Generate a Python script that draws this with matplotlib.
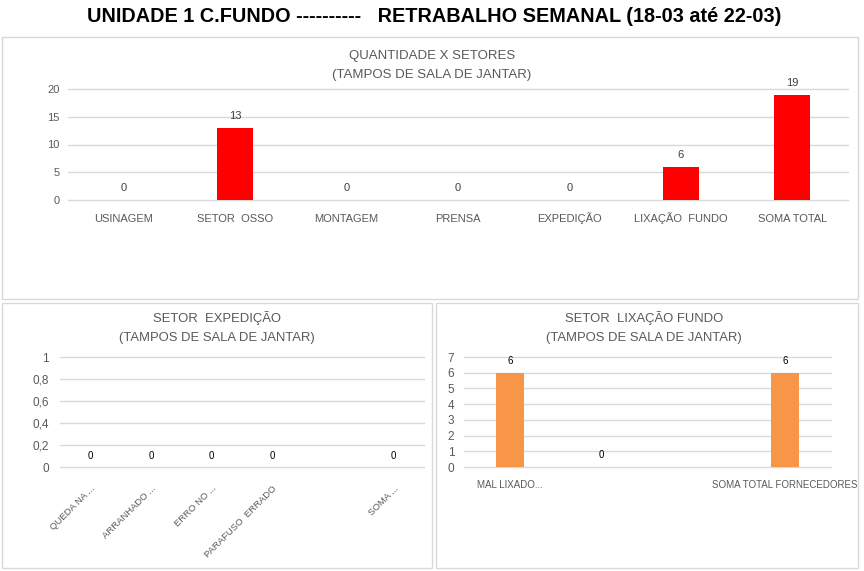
import matplotlib.pyplot as plt
from matplotlib.patches import Rectangle

plt.rcParams['font.family'] = ['Liberation Sans', 'DejaVu Sans']

# dados
setores = ['USINAGEM', 'SETOR  OSSO', 'MONTAGEM', 'PRENSA', 'EXPEDIÇÃO', 'LIXAÇÃO  FUNDO', 'SOMA TOTAL']
qtd_setores = [0, 13, 0, 0, 0, 6, 19]

exp_cats = ['QUEDA NA ...', 'ARRANHADO ...', 'ERRO NO ...', 'PARAFUSO  ERRADO', '', 'SOMA ...']
exp_vals = [0, 0, 0, 0, None, 0]

lix_cats = ['MAL LIXADO...', '', '', 'SOMA TOTAL FORNECEDORES']
lix_vals = [6, 0, None, 6]

W, H = 864, 571
fig = plt.figure(figsize=(W / 100, H / 100), dpi=100)
fig.patch.set_facecolor('white')

TXT = '#595959'
GRID = '#D9D9D9'


def px_axes(x0, x1, ytop, ybot):
    return fig.add_axes([x0 / W, 1 - ybot / H, (x1 - x0) / W, (ybot - ytop) / H])


def box(x0, y0, x1, y1):
    fig.add_artist(Rectangle((x0 / W, 1 - y1 / H), (x1 - x0) / W, (y1 - y0) / H,
                             transform=fig.transFigure, fill=False, edgecolor=GRID, lw=1))


def style(ax, ylim, yticks, ylabels, fs):
    ax.set_ylim(*ylim)
    ax.set_yticks(yticks)
    ax.set_yticklabels(ylabels, fontsize=fs, color=TXT)
    for s in ax.spines.values():
        s.set_visible(False)
    ax.yaxis.grid(True, color=GRID, lw=1)
    for l in ax.get_ygridlines():
        l.set_clip_on(False)
    ax.set_axisbelow(True)
    ax.tick_params(length=0)
    ax.patch.set_alpha(0)


# titulo geral
fig.text(434 / W, 1 - 17 / H, 'UNIDADE 1 C.FUNDO ----------   RETRABALHO SEMANAL (18-03 até 22-03)',
         ha='center', va='center', fontsize=14.3, fontweight='bold', color='black')

# painel de cima
box(2, 37, 858, 299)
fig.text(432 / W, 1 - 56 / H, 'QUANTIDADE X SETORES', ha='center', va='center', fontsize=9.5, color=TXT)
fig.text(432 / W, 1 - 75 / H, '(TAMPOS DE SALA DE JANTAR)', ha='center', va='center', fontsize=9.5, color=TXT)
ax1 = px_axes(68, 848, 89, 200)
x1 = range(len(setores))
ax1.bar(x1, qtd_setores, width=0.32, color='#FF0000')
style(ax1, (0, 20), [0, 5, 10, 15, 20], ['0', '5', '10', '15', '20'], 8)
ax1.set_xlim(-0.5, len(setores) - 0.5)
ax1.set_xticks(list(x1))
ax1.set_xticklabels(setores, fontsize=8, color=TXT, va='baseline')
ax1.tick_params(axis='x', pad=16)
ax1.tick_params(axis='y', pad=6)
for i, v in enumerate(qtd_setores):
    ax1.annotate(str(v), (i, v), xytext=(0, 5), textcoords='offset points',
                 ha='center', va='bottom', fontsize=8, color='#404040')

# painel expedicao
box(2, 303, 432, 568)
fig.text(217 / W, 1 - 318 / H, 'SETOR  EXPEDIÇÃO', ha='center', va='center', fontsize=9.4, color=TXT)
fig.text(217 / W, 1 - 338 / H, '(TAMPOS DE SALA DE JANTAR)', ha='center', va='center', fontsize=9.4, color=TXT)
ax2 = px_axes(60, 424, 357, 467)
x2 = range(len(exp_cats))
ax2.bar(x2, [v if v is not None else 0 for v in exp_vals], width=0.3, color='#F79646')
style(ax2, (0, 1), [0, 0.2, 0.4, 0.6, 0.8, 1], ['0', '0,2', '0,4', '0,6', '0,8', '1'], 8.5)
ax2.set_xlim(-0.5, len(exp_cats) - 0.5)
ax2.set_xticks(list(x2))
ax2.set_xticklabels(exp_cats, fontsize=6.8, color=TXT, rotation=45, ha='right', va='top',
                    rotation_mode='anchor')
ax2.tick_params(axis='x', pad=12)
ax2.tick_params(axis='y', pad=8)
for i, v in enumerate(exp_vals):
    if v is not None:
        ax2.annotate(str(v), (i, v), xytext=(0, 4), textcoords='offset points',
                     ha='center', va='bottom', fontsize=7, color='black')

# painel lixacao fundo
box(436, 303, 858, 568)
fig.text(644 / W, 1 - 318 / H, 'SETOR  LIXAÇÃO FUNDO', ha='center', va='center', fontsize=9.4, color=TXT)
fig.text(644 / W, 1 - 338 / H, '(TAMPOS DE SALA DE JANTAR)', ha='center', va='center', fontsize=9.4, color=TXT)
ax3 = px_axes(464, 831, 357, 467)
x3 = range(len(lix_cats))
ax3.bar(x3, [v if v is not None else 0 for v in lix_vals], width=0.31, color='#F79646')
style(ax3, (0, 7), list(range(8)), [str(i) for i in range(8)], 8.5)
ax3.set_xlim(-0.5, len(lix_cats) - 0.5)
ax3.set_xticks(list(x3))
ax3.set_xticklabels(lix_cats, fontsize=7, color=TXT, va='baseline')
ax3.tick_params(axis='x', pad=15)
ax3.tick_params(axis='y', pad=7)
for i, v in enumerate(lix_vals):
    if v is not None:
        ax3.annotate(str(v), (i, v), xytext=(0, 5), textcoords='offset points',
                     ha='center', va='bottom', fontsize=7, color='black')

fig.savefig('out.png', dpi=100)
